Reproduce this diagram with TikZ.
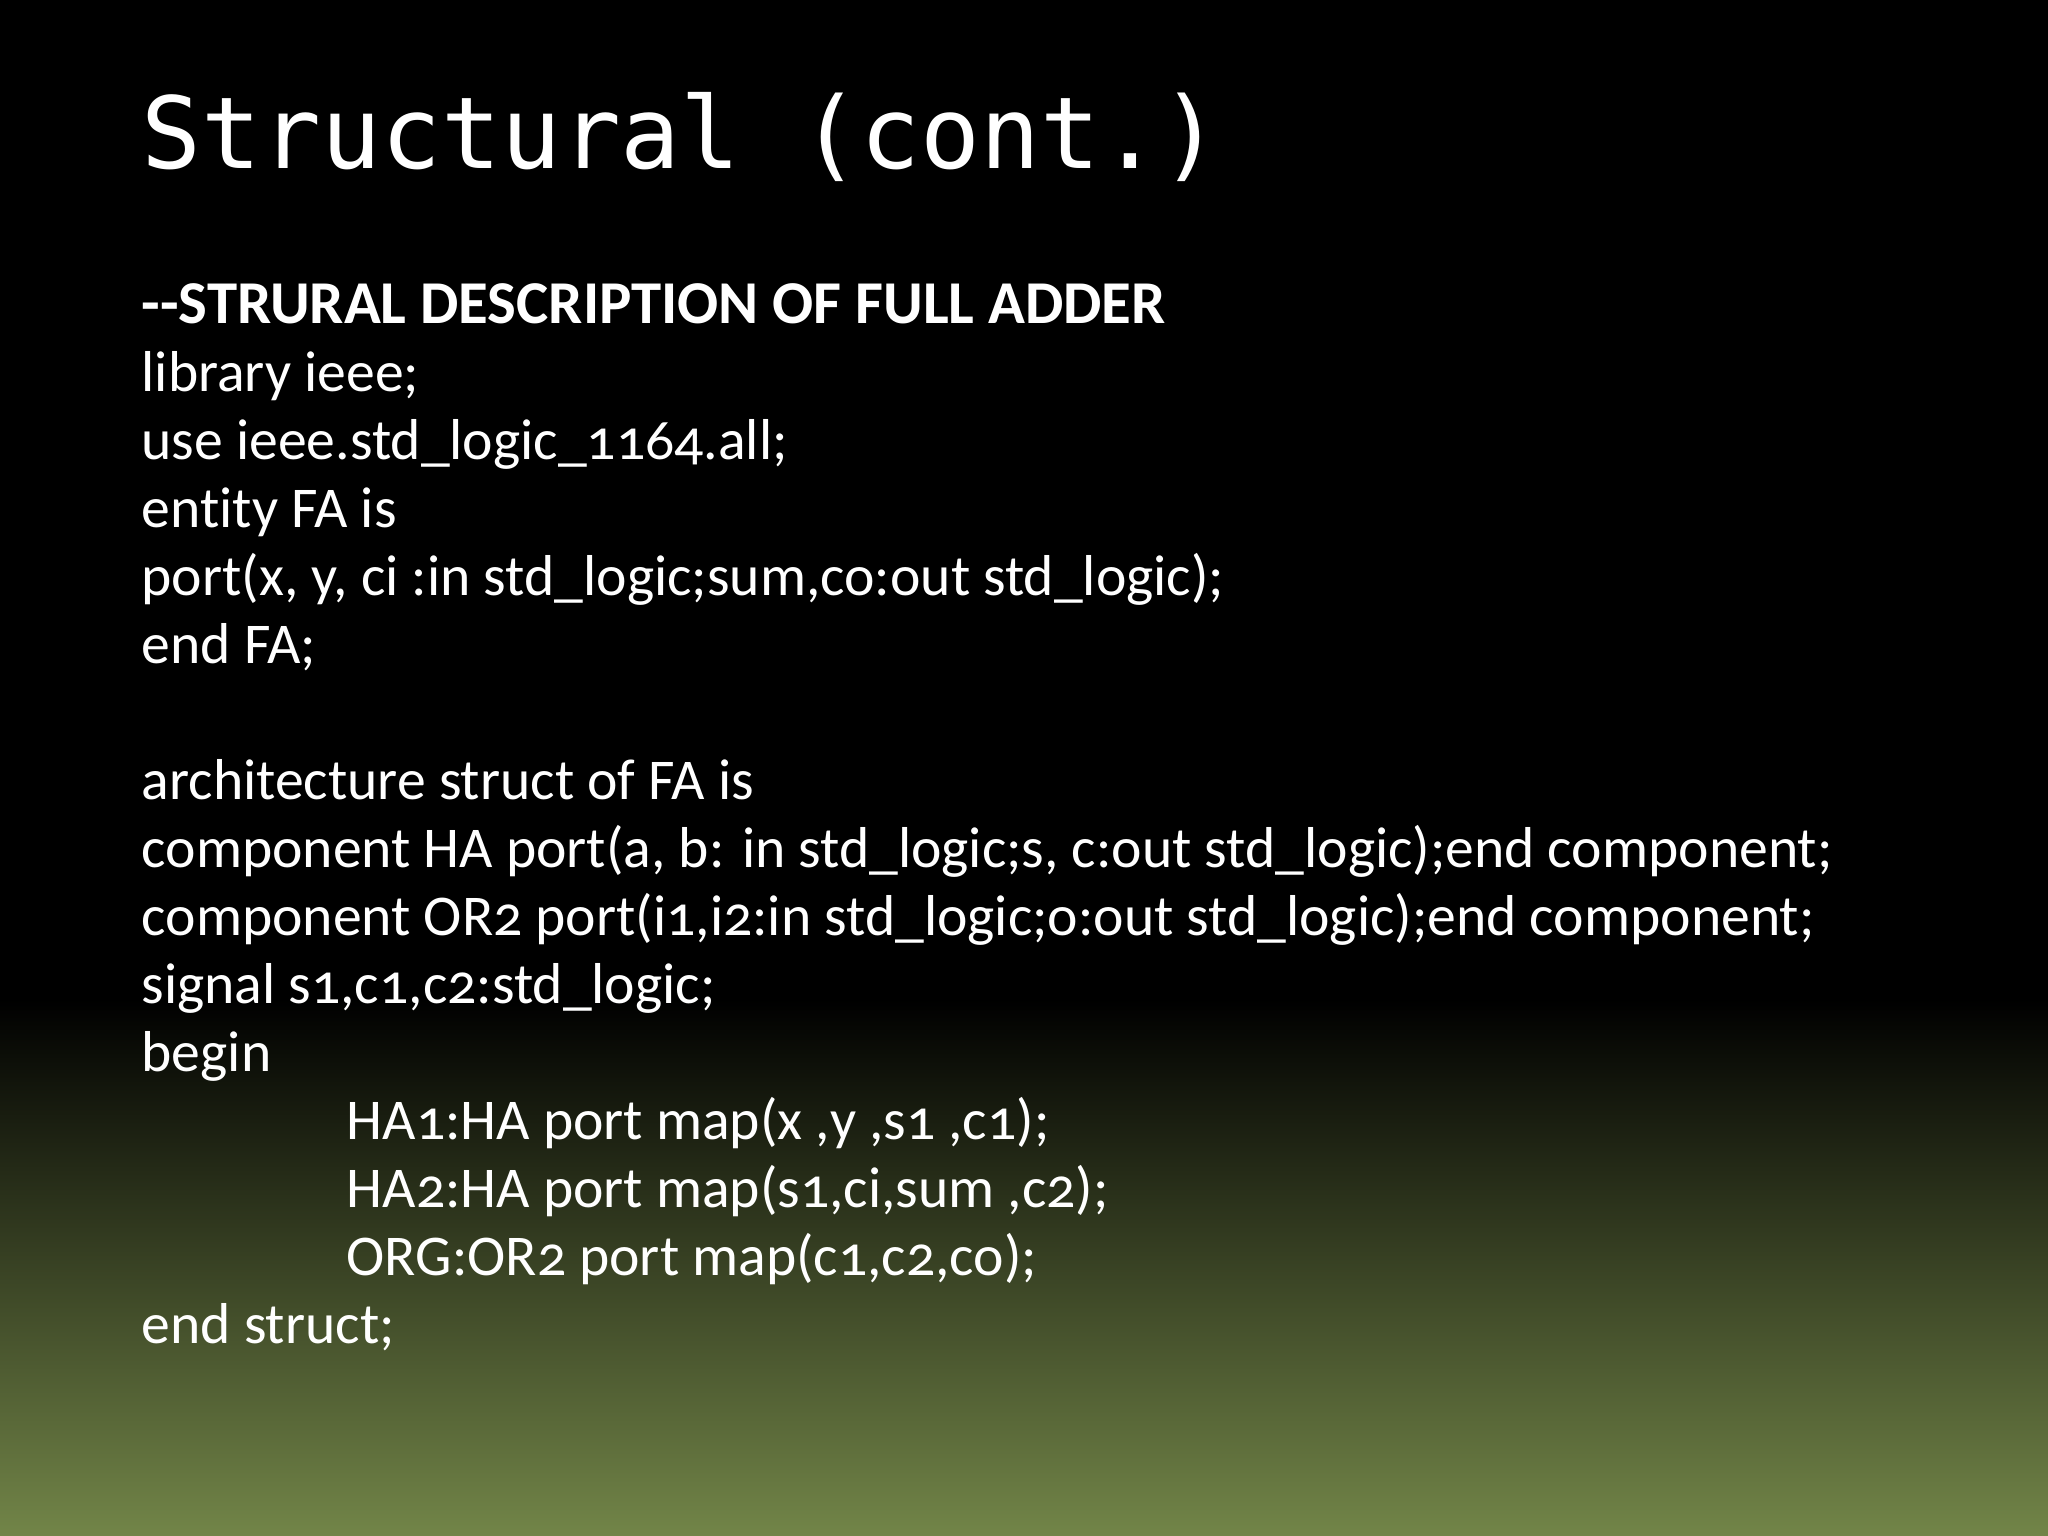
\documentclass[tikz,border=0pt]{standalone}
\usepackage{fontspec}
\setmainfont[Numbers=OldStyle,Ligatures=NoCommon]{Carlito}
\setmonofont{DejaVu Sans Mono}
\begin{document}
\begin{tikzpicture}[x=0.01cm,y=-0.01cm,
  ln/.style={anchor=base west,inner sep=0pt,text=white,font=\fontsize{16.4}{20}\selectfont}]
\useasboundingbox (0,0) rectangle (2048,1536);
\fill[black] (0,0) rectangle (2048,1000);
\shade[top color=black,bottom color={rgb,255:red,114;green,133;blue,72}] (0,999) rectangle (2048,1536);
\node[anchor=base west,inner sep=0pt,text=white,font=\ttfamily\fontsize{28.3}{30}\selectfont] (title) at (141,168) {Structural (cont.)};
\node[ln,font=\bfseries\fontsize{17.3}{20}\selectfont] (l1) at (141,323) {-{}-STRURAL DESCRIPTION OF FULL ADDER};
\node[ln] (l2) at (141,391) {library ieee;};
\node[ln] (l3) at (141,459) {use ieee.std\_logic\_1164.all;};
\node[ln] (l4) at (141,527) {entity FA is};
\node[ln] (l5) at (141,595) {port(x, y, ci :in std\_logic;sum,co:out std\_logic);};
\node[ln] (l6) at (141,663) {end FA;};
\node[ln] (l7) at (141,799) {architecture struct of FA is};
\node[ln] (l8) at (141,867) {component HA port(a, b: in std\_logic;s, c:out std\_logic);end component;};
\node[ln] (l9) at (141,935) {component OR2 port(i1,i2:in std\_logic;o:out std\_logic);end component;};
\node[ln] (l10) at (141,1003) {signal s1,c1,c2:std\_logic;};
\node[ln] (l11) at (141,1071) {begin};
\node[ln] (l12) at (346,1139) {HA1:HA port map(x ,y ,s1 ,c1);};
\node[ln] (l13) at (346,1207) {HA2:HA port map(s1,ci,sum ,c2);};
\node[ln] (l14) at (346,1275) {ORG:OR2 port map(c1,c2,co);};
\node[ln] (l15) at (141,1343) {end struct;};
\end{tikzpicture}
\end{document}
